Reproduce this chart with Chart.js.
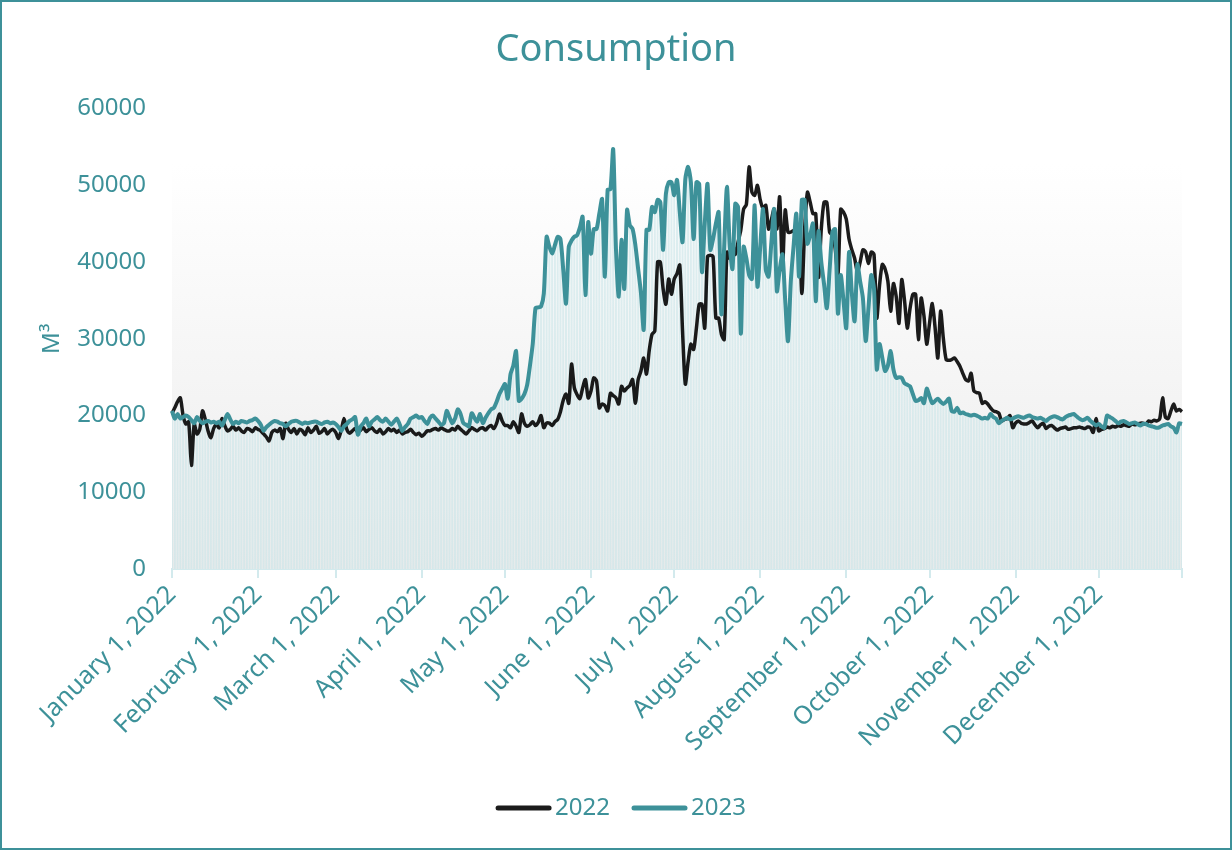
<!DOCTYPE html>
<html>
<head>
<meta charset="utf-8">
<script src="https://cdn.jsdelivr.net/npm/chart.js@4/dist/chart.umd.min.js"></script>
<style>
html,body{margin:0;padding:0;background:#fff;}
#wrap{position:relative;width:1232px;height:850px;}
#frame{position:absolute;left:0;top:0;width:1232px;height:850px;box-sizing:border-box;border:2px solid #3d9199;pointer-events:none;}
canvas{display:block;}
</style>
</head>
<body>
<div id="wrap"><canvas id="c" width="1232" height="850"></canvas><div id="frame"></div></div>
<script>
const monthStarts = [0,31,59,90,120,151,181,212,243,273,304,334];
const monthLabels = ['January 1, 2022','February 1, 2022','March 1, 2022','April 1, 2022','May 1, 2022','June 1, 2022','July 1, 2022','August 1, 2022','September 1, 2022','October 1, 2022','November 1, 2022','December 1, 2022'];
const seriesNames = ['2022','2023'];
const yTicks = [0,10000,20000,30000,40000,50000,60000];

const values2022 = [
// Jan
20300,21000,21800,22300,20000,18900,19200,13500,18900,17600,18200,20600,19500,18000,17100,18300,18800,18400,19600,18700,18000,18200,18600,18100,18400,18000,17800,18300,18200,17900,18400,
// Feb
18200,18000,17600,17200,16700,17800,18100,17900,18300,17000,19000,18200,17800,18300,17600,18200,18000,17500,18400,17800,18100,18600,17700,17900,18300,17600,18000,18200,
// Mar
17800,17000,18100,19600,18200,17700,18000,18300,17800,18100,18400,17900,18200,18400,18000,17800,18200,17600,17900,18300,18000,18200,17800,18100,17600,17800,17900,18200,17800,17500,17700,
// Apr
17300,17600,18000,18000,18200,18300,18100,18400,18200,18000,18000,18300,18100,18600,18200,17900,17600,18000,18400,18200,18000,18300,18400,18100,18500,18700,18300,19000,20200,19300,
// May
18700,18700,18400,19200,18600,17800,20200,19000,18600,18800,19200,18700,19100,20000,18400,19000,19000,18700,19200,19500,20500,22000,22800,21600,26700,23600,22700,22200,23600,24700,22300,
// Jun
23200,24900,24500,21000,21500,21300,20600,22900,22600,22300,21500,23800,23200,23600,23900,24700,21600,24700,25800,27500,25400,28500,30600,31000,40000,40000,36500,34500,37800,35800,
// Jul
37800,38500,39600,31000,24100,27000,29300,28600,31400,34500,34500,31400,40700,40900,40700,32700,32700,30600,29900,41300,40500,42200,41000,42600,44200,46900,47500,52400,49100,48700,50000,
// Aug
48100,47000,47400,44300,45500,46900,44300,48500,39000,46800,43900,43900,44100,44300,44300,35900,44300,49100,47800,46300,46300,38000,44300,47800,47800,43900,43500,41800,38300,46900,46500,
// Sep
45600,43000,41600,40500,38700,40000,41600,41300,39800,41300,41000,32700,37000,39700,39100,37500,33600,37200,35500,32000,37700,35000,31400,34000,35800,35800,29900,35300,33000,29300,
// Oct
32000,34600,31500,27500,33600,30000,27300,27200,27300,27500,27000,26400,25500,24700,24500,25500,23200,23000,22900,21600,21800,21500,21000,20600,20500,20300,19300,19500,19600,20000,18400,
// Nov
19000,19300,19000,18900,18900,19100,19300,18800,18400,18800,19000,18300,18600,18700,18400,18100,18300,18400,18500,18200,18300,18400,18400,18500,18400,18300,18500,18400,17800,19600,
// Dec
18000,18200,18300,18500,18400,18600,18500,18700,18600,18800,18700,18600,18900,18800,18900,19000,19000,18900,19300,19200,19400,19300,19600,22300,19800,19600,20600,21500,20600,20800,20500
];

const values2023 = [
// Jan
20600,19600,20200,19600,19800,20000,19800,19400,19000,19800,19300,19000,19200,19300,19100,19200,19000,19200,18700,19400,20200,19500,18900,19200,19000,19300,19200,19100,19300,19400,19600,
// Feb
19300,18800,18000,18500,18800,19100,19300,19200,19000,18900,18600,18900,19200,19300,19300,19100,18900,19100,19000,19100,19200,19200,19000,18900,19100,19200,19000,19100,
// Mar
18900,18500,18000,18600,18900,19300,19500,19800,17500,18600,19000,19600,18600,19200,19500,19800,19400,19200,19600,19200,18800,19200,19600,18900,18000,18500,18900,19600,19800,20000,19700,
// Apr
19800,19300,18900,19700,20000,19600,19200,18800,19000,20600,19800,19000,19600,20800,20200,19000,18800,18600,20300,19700,19200,20200,19000,19700,20300,20800,21000,21800,22800,23500,
// May
24100,22200,25400,26500,28400,21900,22200,22800,24000,26500,29300,34000,34100,34200,35900,43300,42000,41100,42200,43300,43000,39000,34600,42000,42800,43300,43500,44500,45900,35700,45200,
// Jun
41100,44300,44300,46300,48200,38100,49400,49500,54700,41700,35500,42900,36500,46800,44800,44300,42200,39100,36000,31200,44200,44200,47200,46500,48100,47800,41600,48900,50400,50400,
// Jul
48700,50700,46500,42600,50800,52400,50400,43000,50400,50200,38700,45000,50200,41600,43000,45000,46500,33200,42000,49800,42200,39100,47600,47200,30700,42000,40500,38300,37800,47400,36800,
// Aug
42000,46900,39000,38100,42500,46900,36200,39000,41000,35000,29700,37400,42000,46300,38100,48100,48100,42400,43500,45000,34900,44000,40000,37100,34000,39000,43900,44300,33300,38300,35000,
// Sep
31400,41300,36000,32300,39700,37500,35300,29700,34000,38300,36500,26000,29300,27500,25800,26500,28400,26000,24900,25000,24900,24200,24000,23800,22800,21900,22000,22300,21600,23500,
// Oct
22500,21600,21900,22200,21800,21500,21800,22200,20600,20500,21000,20300,20400,20200,20100,20000,20100,20000,19800,19600,19700,19600,20200,19800,19600,19000,19300,19500,19700,19500,19600,
// Nov
19800,19900,19800,19700,19900,20000,19800,19700,19600,19700,19500,19300,19600,19800,19900,19800,19600,19500,19800,20000,20100,20200,19900,19600,19400,19500,19700,19300,19000,18700,
// Dec
18900,18600,18400,20000,19800,19600,19300,19000,19200,19300,19100,18900,19000,19100,18900,18700,18900,18900,18700,18600,18500,18400,18500,18700,18800,18900,18600,18400,17800,19000,18900
];

const TEAL = '#3d9199';
const BLACK = 'rgba(10,10,10,0.93)';
const FONT = '"Noto Sans", "Open Sans", sans-serif';

const labels = values2022.map((v, i) => {
  const k = monthStarts.indexOf(i);
  return k >= 0 ? monthLabels[k] : '';
});

const bgPlugin = {
  id: 'bgGrad',
  beforeDatasetsDraw(chart) {
    const {ctx, chartArea: a} = chart;
    const g = ctx.createLinearGradient(0, a.top, 0, a.bottom);
    g.addColorStop(0, '#ffffff');
    g.addColorStop(0.12, '#ffffff');
    g.addColorStop(1, '#ececec');
    ctx.save();
    ctx.fillStyle = g;
    ctx.fillRect(a.left, a.top + 55, a.right - a.left, a.bottom - a.top - 55);
    ctx.restore();
  }
};

const legendPlugin = {
  id: 'customLegend',
  afterDraw(chart) {
    const ctx = chart.ctx;
    const colors = [BLACK, TEAL];
    ctx.save();
    ctx.font = '24px ' + FONT;
    const lineLen = 55, gap = 4, itemGap = 22;
    const widths = seriesNames.map(n => ctx.measureText(n).width);
    let total = 0;
    widths.forEach((w, i) => { total += lineLen + gap + w + (i ? itemGap : 0); });
    let x = 621 - total / 2;
    const y = 808;
    seriesNames.forEach((n, i) => {
      ctx.strokeStyle = colors[i];
      ctx.lineWidth = 5;
      ctx.lineCap = 'round';
      ctx.beginPath();
      ctx.moveTo(x + 2, y);
      ctx.lineTo(x + lineLen - 2, y);
      ctx.stroke();
      ctx.fillStyle = TEAL;
      ctx.textBaseline = 'middle';
      ctx.textAlign = 'left';
      ctx.fillText(n, x + lineLen + gap, y);
      x += lineLen + gap + widths[i] + itemGap;
    });
    ctx.restore();
  }
};

new Chart(document.getElementById('c'), {
  type: 'line',
  data: {
    labels: labels,
    datasets: [
      {
        label: seriesNames[0],
        data: values2022,
        borderColor: BLACK,
        backgroundColor: BLACK,
        borderWidth: 3.5,
        pointRadius: 0,
        tension: 0.25,
        order: 2
      },
      {
        label: seriesNames[1],
        data: values2023,
        borderColor: TEAL,
        backgroundColor: TEAL,
        borderWidth: 4,
        pointRadius: 0,
        tension: 0.25,
        order: 1
      },
      {
        type: 'bar',
        label: 'fill',
        data: values2023,
        backgroundColor: 'rgba(200,228,232,0.6)',
        borderWidth: 0,
        barPercentage: 0.72,
        categoryPercentage: 1,
        order: 3
      }
    ]
  },
  options: {
    responsive: false,
    animation: false,
    events: [],
    layout: { padding: { left: 0, right: 0, top: 0, bottom: 71 } },
    plugins: {
      title: {
        display: true,
        text: 'Consumption',
        color: TEAL,
        font: { family: FONT, size: 38, weight: 'normal' },
        padding: { top: 27, bottom: 36 }
      },
      legend: { display: false },
      tooltip: { enabled: false }
    },
    scales: {
      x: {
        type: 'category',
        offset: false,
        grid: {
          offset: false,
          drawOnChartArea: false,
          drawTicks: true,
          tickLength: 9,
          lineWidth: 2,
          color: (c) => (monthStarts.includes(c.index) || c.index === 364) ? '#d3eaed' : 'rgba(0,0,0,0)'
        },
        border: { display: true, color: '#d3eaed', width: 2 },
        ticks: {
          autoSkip: false,
          maxRotation: 45,
          minRotation: 45,
          padding: 2,
          color: TEAL,
          font: { family: FONT, size: 25 },
          callback: (v, i) => labels[i]
        },
        afterFit: (s) => { s.height = 210; }
      },
      y: {
        min: 0,
        max: 60000,
        afterBuildTicks: (s) => { s.ticks = yTicks.map(v => ({ value: v })); },
        grid: { display: false, drawTicks: false },
        border: { display: false },
        ticks: {
          color: TEAL,
          font: { family: FONT, size: 24 },
          padding: 26,
          callback: (v) => String(v)
        },
        title: {
          display: true,
          text: 'M³',
          color: TEAL,
          font: { family: FONT, size: 24 },
          padding: { top: 38, bottom: 0 }
        },
        afterFit: (s) => { s.width = 172; }
      },
      yRight: {
        position: 'right',
        display: true,
        min: 0,
        max: 60000,
        grid: { display: false, drawTicks: false },
        border: { display: false },
        ticks: { display: false },
        afterFit: (s) => { s.width = 50; }
      }
    }
  },
  plugins: [bgPlugin, legendPlugin]
});
</script>
</body>
</html>
